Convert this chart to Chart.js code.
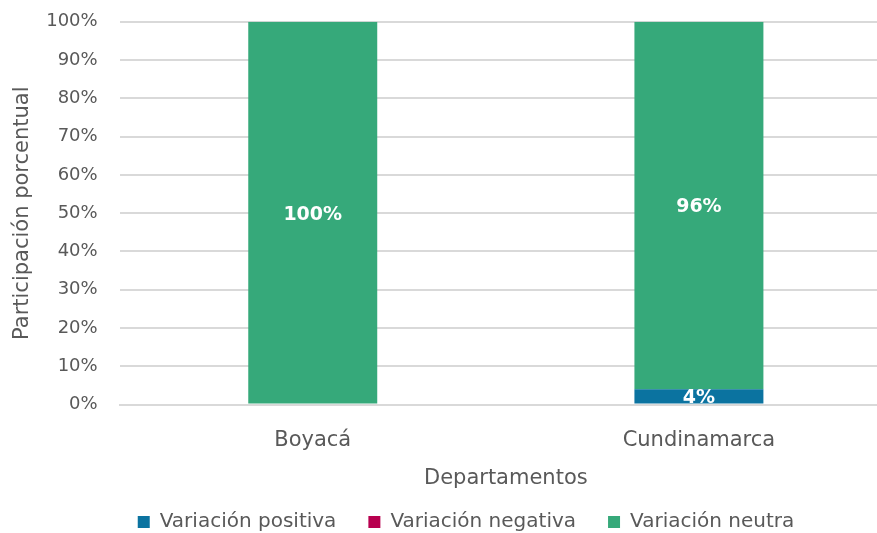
<!DOCTYPE html>
<html>
<head>
<meta charset="utf-8">
<script src="https://cdn.jsdelivr.net/npm/chart.js@4"></script>
<style>
html,body{margin:0;padding:0;background:#fff;overflow:hidden;}
#wrap{width:892px;height:553px;position:relative;margin-top:-11px;}
</style>
</head>
<body>
<div id="wrap"><canvas id="chart"></canvas></div>
<script>
const categorias=['Boyacá','Cundinamarca'];
const positiva=[0,4];
const negativa=[0,0];
const neutra=[100,96];
const ticksY=['0%','10%','20%','30%','40%','50%','60%','70%','80%','90%','100%'];

const fuente='"DejaVu Sans", sans-serif';
const gris='#595959';

// etiquetas dentro de las barras, recortadas al area del grafico
const etiquetas={
  id:'etiquetas',
  afterUpdate(chart){chart.$legendMovida=false;},
  beforeDraw(chart){
    // la leyenda del original no esta centrada en el lienzo
    if(chart.$legendMovida||!chart.legend) return;
    chart.legend.left+=17;
    chart.legend.right+=17;
    chart.$legendMovida=true;
  },
  afterDatasetsDraw(chart){
    const {ctx,chartArea}=chart;
    ctx.save();
    ctx.beginPath();
    ctx.rect(chartArea.left,chartArea.top,chartArea.right-chartArea.left,chartArea.bottom-chartArea.top);
    ctx.clip();
    ctx.fillStyle='#fff';
    ctx.font='bold 19px '+fuente;
    ctx.textAlign='center';
    ctx.textBaseline='middle';
    chart.data.datasets.forEach((ds,i)=>{
      chart.getDatasetMeta(i).data.forEach((bar,j)=>{
        const v=ds.data[j];
        if(!v) return;
        const y=(bar.y+bar.base)/2;
        ctx.fillText(v+'%',bar.x,y+2);
      });
    });
    ctx.restore();
  }
};

const ctx=document.getElementById('chart').getContext('2d');
new Chart(ctx,{
  type:'bar',
  data:{
    labels:categorias,
    datasets:[
      {label:'Variación positiva',data:positiva,backgroundColor:'#0b73a0'},
      {label:'Variación negativa',data:negativa,backgroundColor:'#b8004f'},
      {label:'Variación neutra',data:neutra,backgroundColor:'#36a97a'}
    ]
  },
  options:{
    responsive:true,
    maintainAspectRatio:false,
    animation:false,
    layout:{padding:{top:0,left:6,right:0,bottom:0}},
    datasets:{bar:{categoryPercentage:1,barPercentage:0.334}},
    plugins:{
      legend:{
        position:'bottom',
        labels:{color:gris,font:{family:fuente,size:20},boxWidth:12,boxHeight:12,padding:32}
      },
      tooltip:{enabled:false}
    },
    scales:{
      x:{
        stacked:true,
        grid:{display:false},
        border:{color:'#d9d9d9',width:2},
        ticks:{color:gris,font:{family:fuente,size:21},padding:15},
        title:{display:true,text:'Departamentos',color:gris,font:{family:fuente,size:21},padding:{top:-2,bottom:-11}}
      },
      y:{
        stacked:true,
        min:0,max:100,
        grid:{color:'#d9d9d9',lineWidth:2,drawTicks:false},
        border:{display:false},
        ticks:{stepSize:10,color:gris,font:{family:fuente,size:18},padding:22,
          callback:(v,i)=>ticksY[i]},
        title:{display:true,text:'Participación porcentual',color:gris,font:{family:fuente,size:21},padding:{bottom:-11}}
      }
    }
  },
  plugins:[etiquetas]
});
</script>
</body>
</html>
